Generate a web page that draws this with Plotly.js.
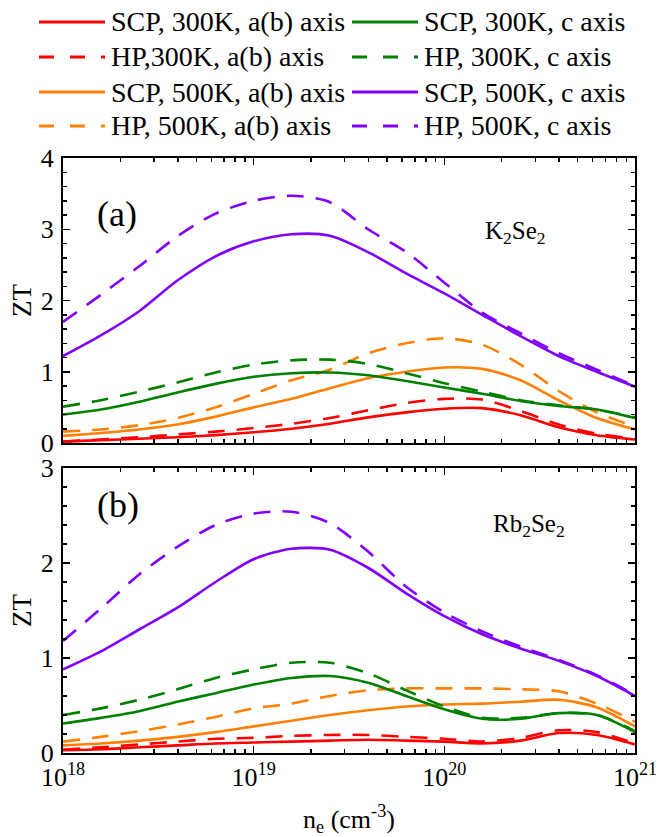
<!DOCTYPE html>
<html>
<head>
<meta charset="utf-8">
<script src="https://cdn.plot.ly/plotly-3.0.1.min.js"></script>
<style>html,body{margin:0;padding:0;background:#fff;}#chart{width:669px;height:837px;}</style>
</head>
<body>
<div id="chart"></div>
<script>
// carrier concentration n_e (cm^-3)
var nE = [1.0e18, 1.58e18, 2.51e18, 3.98e18, 6.31e18, 1.0e19, 1.58e19, 2.51e19,
          3.98e19, 6.31e19, 1.0e20, 1.58e20, 2.51e20, 3.98e20, 6.31e20, 1.0e21];

// Panel (a) K2Se2
var a_SCP300_ab = [0.02,0.04,0.06,0.08,0.11,0.15,0.20,0.27,0.36,0.43,0.48,0.49,0.39,0.22,0.11,0.05];
var a_HP300_ab  = [0.02,0.05,0.08,0.12,0.16,0.21,0.27,0.35,0.46,0.56,0.62,0.61,0.45,0.26,0.13,0.06];
var a_SCP300_c  = [0.40,0.47,0.58,0.71,0.83,0.93,0.98,0.99,0.95,0.87,0.78,0.69,0.59,0.52,0.47,0.35];
var a_HP300_c   = [0.51,0.60,0.72,0.85,0.99,1.10,1.16,1.17,1.11,0.98,0.84,0.72,0.60,0.53,0.47,0.36];
var a_SCP500_ab = [0.10,0.14,0.19,0.26,0.37,0.50,0.62,0.77,0.91,1.00,1.06,1.04,0.88,0.60,0.35,0.19];
var a_HP500_ab  = [0.16,0.19,0.25,0.35,0.50,0.69,0.88,1.03,1.26,1.40,1.47,1.38,1.10,0.73,0.43,0.23];
var a_SCP500_c  = [1.22,1.51,1.85,2.28,2.62,2.83,2.93,2.91,2.68,2.38,2.10,1.80,1.50,1.22,1.00,0.79];
var a_HP500_c   = [1.70,2.08,2.48,2.90,3.22,3.40,3.47,3.38,3.00,2.68,2.25,1.83,1.54,1.26,1.03,0.80];

// Panel (b) Rb2Se2
var b_SCP300_ab = [0.03,0.04,0.06,0.08,0.10,0.11,0.12,0.13,0.14,0.13,0.12,0.10,0.13,0.21,0.19,0.09];
var b_HP300_ab  = [0.035,0.06,0.09,0.12,0.15,0.16,0.18,0.19,0.19,0.17,0.15,0.12,0.16,0.24,0.22,0.10];
var b_SCP300_c  = [0.31,0.37,0.44,0.54,0.63,0.72,0.79,0.81,0.74,0.60,0.46,0.36,0.36,0.42,0.40,0.22];
var b_HP300_c   = [0.40,0.47,0.56,0.67,0.79,0.88,0.95,0.95,0.84,0.66,0.49,0.37,0.37,0.42,0.40,0.23];
var b_SCP500_ab = [0.08,0.10,0.13,0.17,0.22,0.28,0.34,0.40,0.45,0.49,0.51,0.52,0.54,0.56,0.48,0.28];
var b_HP500_ab  = [0.12,0.17,0.23,0.30,0.38,0.47,0.52,0.60,0.66,0.68,0.68,0.68,0.67,0.65,0.52,0.33];
var b_SCP500_c  = [0.88,1.07,1.30,1.53,1.80,2.04,2.15,2.14,1.95,1.68,1.44,1.25,1.10,0.97,0.81,0.60];
var b_HP500_c   = [1.18,1.52,1.88,2.17,2.40,2.52,2.54,2.42,2.12,1.75,1.48,1.28,1.12,0.98,0.82,0.61];

// series names (legend order: rows, two columns)
var seriesNames = ["SCP, 300K, a(b) axis", "SCP, 300K, c axis",
                   "HP,300K, a(b) axis",   "HP, 300K, c axis",
                   "SCP, 500K, a(b) axis", "SCP, 500K, c axis",
                   "HP, 500K, a(b) axis",  "HP, 500K, c axis"];
var seriesColors = ["#ff0000", "#008000", "#ff0000", "#008000",
                    "#ff8000", "#8000ff", "#ff8000", "#8000ff"];
var seriesDash = ["solid", "solid", "dash", "dash", "solid", "solid", "dash", "dash"];

var xTickVals = [1e18, 1e19, 1e20, 1e21];
var xTickText = ["10<sup>18</sup>", "10<sup>19</sup>", "10<sup>20</sup>", "10<sup>21</sup>"];
var xTitle = "n<sub>e</sub> (cm<sup>-3</sup>)";
var yTitle = "ZT";
var panelTags = ["(a)", "(b)"];
var compounds = ["K<sub>2</sub>Se<sub>2</sub>", "Rb<sub>2</sub>Se<sub>2</sub>"];

var dataA = [a_SCP300_ab, a_SCP300_c, a_HP300_ab, a_HP300_c, a_SCP500_ab, a_SCP500_c, a_HP500_ab, a_HP500_c];
var dataB = [b_SCP300_ab, b_SCP300_c, b_HP300_ab, b_HP300_c, b_SCP500_ab, b_SCP500_c, b_HP500_ab, b_HP500_c];

var FONT = "Liberation Serif";
var W = 669, H = 837, ML = 63, MR = 34;
function px(x) { return (x - ML) / (W - ML - MR); }
function py(y) { return 1 - y / H; }

var dashPat = {solid: "solid", dash: "17px,12px"};
var drawOrder = [4, 6, 0, 2, 1, 3, 5, 7];
var traces = [];
[dataA, dataB].forEach(function (set, p) {
  drawOrder.forEach(function (i) {
    traces.push({
      x: nE, y: set[i], type: "scatter", mode: "lines",
      name: seriesNames[i],
      xaxis: p === 0 ? "x" : "x2", yaxis: p === 0 ? "y" : "y2",
      line: {color: seriesColors[i], width: 2.6, dash: dashPat[seriesDash[i]], shape: "spline", smoothing: 0.8},
      showlegend: false, hoverinfo: "x+y+name"
    });
  });
});

var minorX = [];
[1e18, 1e19, 1e20].forEach(function (d) { for (var k = 2; k <= 9; k++) minorX.push(k * d); });

function xAxis(anchor, labels) {
  var ax = {
    type: "log", range: [18, 21], domain: [0, 1], anchor: anchor,
    tickmode: "array", tickvals: xTickVals, ticktext: xTickText,
    showticklabels: labels, ticks: "inside", ticklen: 7, tickwidth: 1.5, tickcolor: "#000",
    showline: true, linewidth: 2, linecolor: "#000", mirror: "allticks",
    showgrid: false, zeroline: false,
    tickfont: {family: FONT, size: 26, color: "#000"},
    minor: {tickmode: "array", tickvals: minorX, ticks: "inside", ticklen: 4, tickwidth: 1.5, tickcolor: "#000", showgrid: false}
  };
  if (labels) ax.title = {text: xTitle, font: {family: FONT, size: 26, color: "#000"}, standoff: 24};
  return ax;
}
function yAxis(anchor, dom, top) {
  return {
    domain: dom, range: [0, top], anchor: anchor, tickmode: "linear", tick0: 0, dtick: 1,
    ticks: "inside", ticklen: 7, tickwidth: 1.5, tickcolor: "#000",
    showline: true, linewidth: 2, linecolor: "#000", mirror: "allticks",
    showgrid: false, zeroline: false, ticklabelstandoff: 2,
    tickfont: {family: FONT, size: 26, color: "#000"},
    title: {text: yTitle, font: {family: FONT, size: 27, color: "#000"}, standoff: 1},
    minor: {dtick: 0.2, ticks: "inside", ticklen: 4, tickwidth: 1.5, tickcolor: "#000", showgrid: false}
  };
}

var annotations = [
  {text: panelTags[0], x: px(95), y: py(192), xref: "paper", yref: "paper", showarrow: false, font: {family: FONT, size: 36, color: "#000"}},
  {text: panelTags[1], x: px(95), y: py(505), xref: "paper", yref: "paper", showarrow: false, font: {family: FONT, size: 36, color: "#000"}},
  {text: compounds[0], x: px(548), y: py(215), xref: "paper", yref: "paper", showarrow: false, font: {family: FONT, size: 25, color: "#000"}},
  {text: compounds[1], x: px(567), y: py(525), xref: "paper", yref: "paper", showarrow: false, font: {family: FONT, size: 25, color: "#000"}}
];
var shapes = [];
var colX = [39, 352], rowY = [22, 57, 92, 126];
seriesNames.forEach(function (nm, i) {
  var c = i % 2, r = Math.floor(i / 2);
  shapes.push({type: "line", xref: "paper", yref: "paper",
    x0: px(colX[c]), x1: px(colX[c] + 66), y0: py(rowY[r]), y1: py(rowY[r]),
    line: {color: seriesColors[i], width: 3, dash: seriesDash[i] === "dash" ? "15px,16px" : "solid"}});
  annotations.push({text: nm, x: px(colX[c] + 70), y: py(rowY[r]), xref: "paper", yref: "paper",
    xanchor: "left", yanchor: "middle", showarrow: false, font: {family: FONT, size: 28, color: "#000"}});
});

var layout = {
  width: W, height: H, autosize: false,
  margin: {l: ML, r: MR, t: 0, b: 0, pad: 0},
  paper_bgcolor: "#fff", plot_bgcolor: "#fff", showlegend: false,
  font: {family: FONT, size: 26, color: "#000"},
  xaxis: xAxis("y", false),
  yaxis: yAxis("x", [py(443), py(158)], 4),
  xaxis2: xAxis("y2", true),
  yaxis2: yAxis("x2", [py(753), py(468)], 3),
  annotations: annotations, shapes: shapes
};

Plotly.newPlot("chart", traces, layout, {displayModeBar: false, staticPlot: true});
</script>
</body>
</html>
